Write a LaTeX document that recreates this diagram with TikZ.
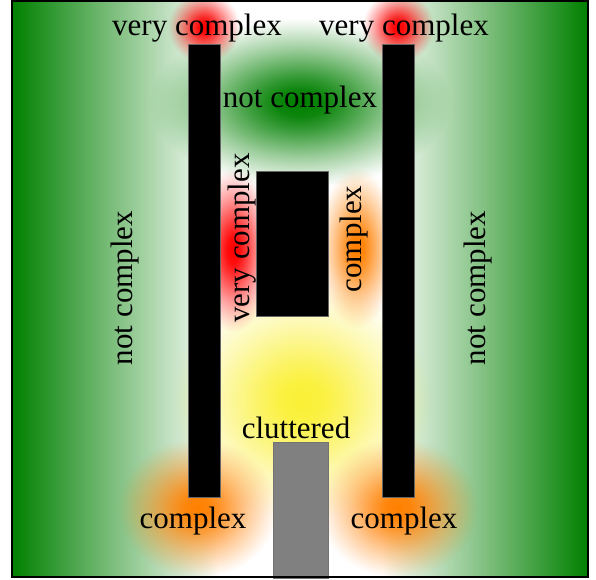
\documentclass[tikz,border=0pt]{standalone}
\usepackage{fontspec}
\setmainfont{Liberation Serif}
\usetikzlibrary{fadings}
\pgfdeclareradialshading{glowshade}{\pgfpointorigin}{color(0bp)=(pgftransparent!0); color(4bp)=(pgftransparent!5); color(8bp)=(pgftransparent!22); color(12bp)=(pgftransparent!42); color(16bp)=(pgftransparent!62); color(20bp)=(pgftransparent!80); color(23bp)=(pgftransparent!93); color(25bp)=(pgftransparent!100); color(50bp)=(pgftransparent!100)}
\pgfdeclarefading{glow}{\pgfuseshading{glowshade}}
\definecolor{darkgr}{RGB}{0,128,0}
\definecolor{orng}{RGB}{255,128,0}
\definecolor{yel}{RGB}{250,238,20}
\tikzset{
  lbl/.style={font=\fontsize{31}{31}\selectfont, inner sep=0pt, text=black},
  barbox/.style={fill=black, draw=black!60, line width=0.6pt, inner sep=0pt, outer sep=0pt},
  graybox/.style={fill=black!50, draw=black!55, line width=0.6pt, inner sep=0pt, outer sep=0pt},
  hot/.style={fill=#1, path fading=glow},
}
\begin{document}
\begin{tikzpicture}[x=1pt,y=-1pt]
\useasboundingbox (0,0) rectangle (596,579);
% background
\fill[white] (12,1) rectangle (588,577);
\shade[left color=darkgr, right color=white] (12,1) rectangle (218,577);
\shade[left color=white, right color=darkgr] (382,1) rectangle (588,577);
% glows
\begin{scope}
\clip (12,1) rectangle (588,577);
\fill[hot=darkgr] (300,103) ellipse (150 and 85);
\fill[hot=yel, fill opacity=0.85] (302,400) ellipse (130 and 120);
\fill[hot=red] (233,250) ellipse (40 and 82);
\fill[hot=orng] (357,248) ellipse (40 and 80);
\fill[hot=orng] (198,508) ellipse (80 and 70);
\fill[hot=orng] (398,508) ellipse (80 and 70);
\fill[hot=red] (204,27) ellipse (36 and 36);
\fill[hot=red] (398,27) ellipse (36 and 36);
\end{scope}
% obstacles
\node[barbox, minimum width=32pt, minimum height=453pt] (lbar) at (204,270.5) {};
\node[barbox, minimum width=32pt, minimum height=453pt] (rbar) at (398,270.5) {};
\node[barbox, minimum width=72pt, minimum height=145pt] (cbox) at (292,243.5) {};
\node[graybox, minimum width=55pt, minimum height=136pt] (gbox) at (300.5,510) {};
% frame
\draw[line width=1.2pt] (12,1) rectangle (588,577);
% labels
\node[lbl] (vcl) at (197,28) {very complex};
\node[lbl] (vcr) at (404,28) {very complex};
\node[lbl] (ncm) at (300,100) {not complex};
\node[lbl, rotate=90] (vcc) at (242,238) {very complex};
\node[lbl, rotate=90] (cc) at (354,239) {complex};
\node[lbl, rotate=90] (ncl) at (125,288) {not complex};
\node[lbl, rotate=90] (ncr) at (478,288) {not complex};
\node[lbl] (clt) at (296,428) {cluttered};
\node[lbl] (cbl) at (193,521) {complex};
\node[lbl] (cbr) at (404,521) {complex};
\end{tikzpicture}
\end{document}
